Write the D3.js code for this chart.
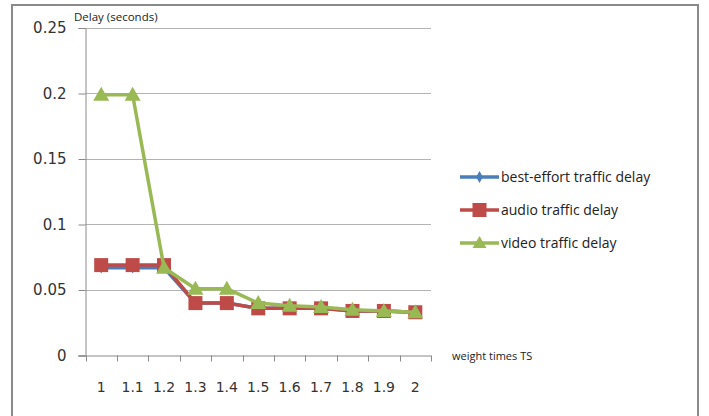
<!DOCTYPE html>
<html>
<head>
<meta charset="utf-8">
<script src="https://cdn.jsdelivr.net/npm/d3@7"></script>
<style>
  html, body { margin: 0; padding: 0; background: #fff; }
  svg { display: block; }
</style>
</head>
<body>
<svg id="chart" width="709" height="416"></svg>
<script>
// Weight multipliers on the x axis
const categories = ["1", "1.1", "1.2", "1.3", "1.4", "1.5", "1.6", "1.7", "1.8", "1.9", "2"];
// Mean delay per traffic class (seconds)
const bestEffort = [0.067, 0.067, 0.067, 0.040, 0.040, 0.036, 0.036, 0.036, 0.034, 0.034, 0.033];
const audio      = [0.069, 0.069, 0.069, 0.040, 0.040, 0.036, 0.036, 0.036, 0.034, 0.034, 0.033];
const video      = [0.199, 0.199, 0.067, 0.051, 0.051, 0.040, 0.038, 0.037, 0.035, 0.034, 0.033];
const yTicks = [0, 0.05, 0.1, 0.15, 0.2, 0.25];
const seriesNames = ["best-effort traffic delay", "audio traffic delay", "video traffic delay"];

const series = [
  { name: seriesNames[0], values: bestEffort, color: "#4a7ebb", marker: "diamond" },
  { name: seriesNames[1], values: audio,      color: "#be4b48", marker: "square" },
  { name: seriesNames[2], values: video,      color: "#98b954", marker: "triangle" }
];

const svg = d3.select("#chart");
const plot = { left: 85.5, right: 431, top: 28, bottom: 355.5 };

// Chart frame
svg.append("rect")
  .attr("x", 12).attr("y", 5).attr("width", 686).attr("height", 420)
  .attr("fill", "#fff").attr("stroke", "#8a8a8a").attr("stroke-width", 2);

const x = d3.scaleBand().domain(categories).range([plot.left, plot.right]);
const y = d3.scaleLinear().domain([0, 0.25]).range([plot.bottom, plot.top]);

// Horizontal gridlines
svg.append("g").selectAll("line")
  .data(yTicks.filter(d => d > 0))
  .join("line")
  .attr("x1", plot.left).attr("x2", plot.right)
  .attr("y1", d => Math.round(y(d)) + 0.5).attr("y2", d => Math.round(y(d)) + 0.5)
  .attr("stroke", "#b3b3b3").attr("stroke-width", 1);

// Y axis
const yAxis = svg.append("g")
  .attr("transform", `translate(${plot.left},0)`)
  .call(d3.axisLeft(y).tickValues(yTicks).tickSize(7).tickPadding(12)
    .tickFormat(d => d === 0 ? "0" : String(+d.toFixed(2))));
yAxis.select(".domain").attr("stroke", "#8a8a8a");
yAxis.selectAll(".tick line").attr("stroke", "#8a8a8a");
yAxis.selectAll(".tick text")
  .attr("font-family", "'DejaVu Sans', sans-serif").attr("font-size", 15)
  .attr("fill", "#333");

// X axis: ticks on band boundaries, labels centred in bands
const xAxisG = svg.append("g").attr("transform", `translate(0,${plot.bottom})`);
xAxisG.append("line")
  .attr("x1", plot.left - 7).attr("x2", plot.right)
  .attr("y1", 0.5).attr("y2", 0.5).attr("stroke", "#8a8a8a");
const bounds = categories.map(c => x(c)).concat([plot.right]);
xAxisG.selectAll("line.tk").data(bounds).join("line").attr("class", "tk")
  .attr("x1", d => Math.round(d) + 0.5).attr("x2", d => Math.round(d) + 0.5)
  .attr("y1", 0).attr("y2", 6).attr("stroke", "#8a8a8a");
xAxisG.selectAll("text").data(categories).join("text")
  .attr("x", d => x(d) + x.bandwidth() / 2)
  .attr("y", 36)
  .attr("text-anchor", "middle")
  .attr("font-family", "'DejaVu Sans', sans-serif").attr("font-size", 14)
  .attr("fill", "#333")
  .text(d => d);

// Axis titles
svg.append("text").attr("x", 74).attr("y", 21)
  .attr("font-family", "'Open Sans', sans-serif").attr("font-size", 11.5)
  .attr("fill", "#222").text("Delay (seconds)");
svg.append("text").attr("x", 452).attr("y", 360)
  .attr("font-family", "'Open Sans', sans-serif").attr("font-size", 11)
  .attr("fill", "#222").text("weight times TS");

const cx = (d, i) => x(categories[i]) + x.bandwidth() / 2;

function drawMarker(g, type, color) {
  if (type === "diamond") {
    g.append("path").attr("d", d3.symbol(d3.symbolDiamond, 40)()).attr("fill", color);
  } else if (type === "square") {
    g.append("rect").attr("x", -7).attr("y", -7).attr("width", 14).attr("height", 14).attr("fill", color);
  } else {
    g.append("path").attr("d", "M0,-8 L8,6 L-8,6 Z").attr("fill", color);
  }
}

const line = d3.line().x((d, i) => cx(d, i)).y(d => y(d));

series.forEach(s => {
  svg.append("path").datum(s.values)
    .attr("d", line)
    .attr("fill", "none").attr("stroke", s.color).attr("stroke-width", 3.5)
    .attr("stroke-linejoin", "round");
  svg.append("g").selectAll("g").data(s.values).join("g")
    .attr("transform", (d, i) => `translate(${cx(d, i)},${y(d)})`)
    .each(function () { drawMarker(d3.select(this), s.marker, s.color); });
});

// Legend
const legend = svg.append("g");
series.forEach((s, i) => {
  const ly = 177 + i * 33;
  const g = legend.append("g");
  g.append("line").attr("x1", 460).attr("x2", 499).attr("y1", ly).attr("y2", ly)
    .attr("stroke", s.color).attr("stroke-width", 3.5);
  const m = g.append("g").attr("transform", `translate(479.5,${ly})`);
  if (s.marker === "diamond") {
    m.append("path").attr("d", d3.symbol(d3.symbolDiamond, 40)()).attr("fill", s.color);
  } else if (s.marker === "square") {
    m.append("rect").attr("x", -7).attr("y", -7).attr("width", 14).attr("height", 14).attr("fill", s.color);
  } else {
    m.append("path").attr("d", "M0,-7 L7,5 L-7,5 Z").attr("fill", s.color);
  }
  g.append("text").attr("x", 501).attr("y", ly + 5)
    .attr("font-family", "'Open Sans', sans-serif").attr("font-size", 14)
    .attr("fill", "#222").text(s.name);
});
</script>
</body>
</html>
